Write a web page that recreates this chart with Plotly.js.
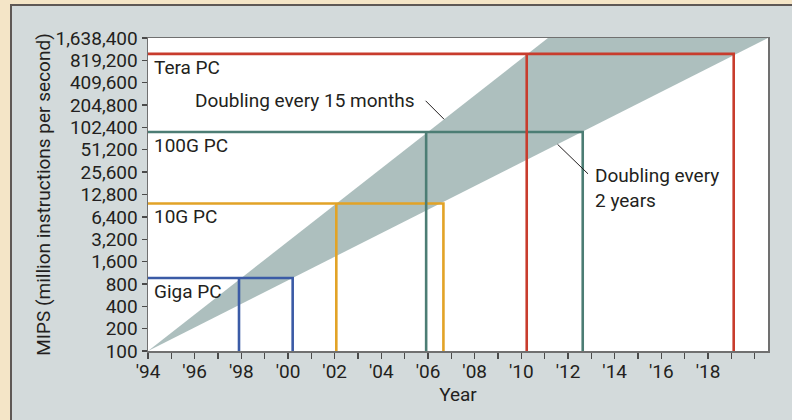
<!DOCTYPE html>
<html>
<head>
<meta charset="utf-8">
<script src="https://cdn.plot.ly/plotly-3.0.1.min.js"></script>
<style>
  html, body { margin: 0; padding: 0; background: #f4e5c7; }
  #chart { width: 792px; height: 420px; }
</style>
</head>
<body>
<div id="chart"></div>
<script>
// ---- data ----
const yearTicks = [1994,1996,1998,2000,2002,2004,2006,2008,2010,2012,2014,2016,2018];
const yearLabels = ["'94","'96","'98","'00","'02","'04","'06","'08","'10","'12","'14","'16","'18"];
const mipsTicks = [100,200,400,800,1600,3200,6400,12800,25600,51200,102400,204800,409600,819200,1638400];
const mipsLabels = ["100","200","400","800","1,600","3,200","6,400","12,800","25,600","51,200","102,400","204,800","409,600","819,200","1,638,400"];

// band between "doubling every 15 months" and "doubling every 2 years"
const bandYears = [1994, 2011.14, 2020.57];
const bandMips  = [100, 1638400, 1638400];

// PC classes: level reached, year reached on the fast and slow trend
const pcNames  = ["Giga PC", "10G PC", "100G PC", "Tera PC"];
const pcLevels = [960, 9700, 89000, 1000000];
const fastYear = [1997.9, 2002.07, 2005.92, 2010.23];
const slowYear = [2000.2, 2006.66, 2012.63, 2019.1];
const pcColors = ["#3b5ba6", "#e2a327", "#4c7d74", "#c83c2d"];

const startYear = 1994;
const baseMips = 100;

// ---- traces ----
const traces = [];
traces.push({
  type: 'scatter', mode: 'lines',
  x: [bandYears[0], bandYears[1], bandYears[2], bandYears[0]],
  y: [bandMips[0], bandMips[1], bandMips[2], bandMips[0]],
  fill: 'toself', fillcolor: '#adbfbe',
  line: { width: 0, color: '#adbfbe' },
  hoverinfo: 'skip', showlegend: false
});
pcNames.forEach((name, i) => {
  traces.push({
    type: 'scatter', mode: 'lines', name: name,
    x: [startYear, slowYear[i], slowYear[i], null, fastYear[i], fastYear[i]],
    y: [pcLevels[i], pcLevels[i], baseMips, null, baseMips, pcLevels[i]],
    line: { color: pcColors[i], width: 2.6 },
    connectgaps: false, showlegend: false
  });
});

const txt = '#231f20';
const font = { family: 'Roboto, Arial, sans-serif', size: 19, color: txt };

const annotations = pcNames.map((name, i) => ({
  x: startYear, y: Math.log10(pcLevels[i]), xref: 'x', yref: 'y',
  text: name, showarrow: false, xanchor: 'left', yanchor: 'middle',
  xshift: 4, yshift: -13.5, font: font
}));
// trend labels
annotations.push({
  xref: 'paper', yref: 'paper', x: 0.4335, y: 0.801,
  text: 'Doubling every 15 months', showarrow: false,
  xanchor: 'right', yanchor: 'middle', font: font
});
annotations.push({
  x: 2006.69, y: Math.log10(131800), xref: 'x', yref: 'y',
  text: '', showarrow: true, arrowhead: 0, arrowwidth: 1, arrowcolor: txt,
  ax: -20, ay: -20, standoff: 0, startstandoff: 0
});
annotations.push({
  xref: 'paper', yref: 'paper', x: 0.718, y: 0.52,
  text: 'Doubling every<br>2 years', showarrow: false, align: 'left',
  xanchor: 'left', yanchor: 'middle', font: font
});
annotations.push({
  x: 2011.55, y: Math.log10(60700), xref: 'x', yref: 'y',
  text: '', showarrow: true, arrowhead: 0, arrowwidth: 1, arrowcolor: txt,
  ax: 32, ay: 31, standoff: 0, startstandoff: 0
});

const L = 148, T = 38, W = 620, H = 313;
const layout = {
  width: 792, height: 420,
  margin: { l: L, r: 792 - L - W, t: T, b: 420 - T - H, pad: 0 },
  paper_bgcolor: '#f4e5c7',
  plot_bgcolor: '#ffffff',
  font: font,
  showlegend: false,
  shapes: [
    { type: 'rect', xref: 'paper', yref: 'paper', layer: 'below',
      x0: (11 - L) / W, x1: (810 - L) / W, y0: (T + H - 440) / H, y1: (T + H - 5) / H,
      fillcolor: '#d3dadb', line: { color: '#5e5855', width: 2 } },
    { type: 'rect', xref: 'paper', yref: 'paper', layer: 'below',
      x0: 0, x1: 1, y0: 0, y1: 1, fillcolor: '#ffffff', line: { width: 0 } }
  ],
  xaxis: {
    range: [1994, 2020.57],
    tickmode: 'array', tickvals: yearTicks, ticktext: yearLabels,
    ticks: 'outside', ticklen: 6, tickwidth: 1.3, tickcolor: '#4a4a4a',
    minor: { tickmode: 'linear', tick0: 1994, dtick: 1, ticks: 'outside', ticklen: 6, tickwidth: 1.3, tickcolor: '#4a4a4a', showgrid: false },
    ticklabelstandoff: -3,
    showline: true, linecolor: '#707070', linewidth: 1.5, mirror: true,
    showgrid: false, zeroline: false,
    tickfont: font,
    title: { text: 'Year', font: font, standoff: 5 }
  },
  yaxis: {
    type: 'log', range: [Math.log10(100), Math.log10(1638400)],
    tickmode: 'array', tickvals: mipsTicks, ticktext: mipsLabels,
    ticks: 'outside', ticklen: 5, tickwidth: 1.3, tickcolor: '#4a4a4a',
    showline: true, linecolor: '#707070', linewidth: 1.5, mirror: true,
    showgrid: false, zeroline: false,
    tickfont: font,
    title: { text: 'MIPS (million instructions per second)', font: font, standoff: 0 }
  },
  annotations: annotations
};

Plotly.newPlot('chart', traces, layout, { displayModeBar: false, staticPlot: true });
</script>
</body>
</html>
